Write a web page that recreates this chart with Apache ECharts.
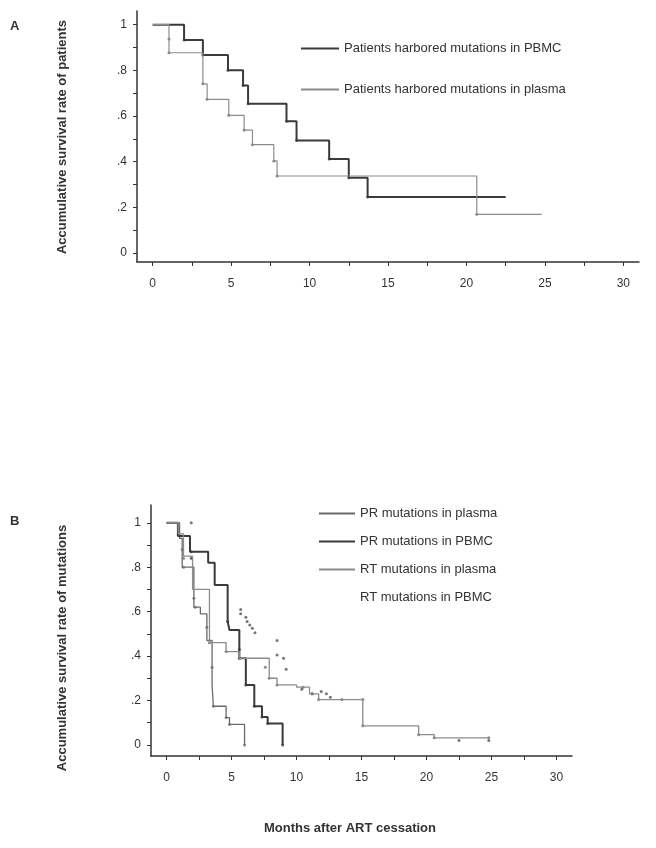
<!DOCTYPE html>
<html><head><meta charset="utf-8">
<script src="https://cdn.jsdelivr.net/npm/echarts@6/dist/echarts.min.js"></script>
<style>html,body{margin:0;padding:0;background:#fff}#c{width:656px;height:848px}</style>
</head><body><div id="c"></div>
<script>
// ---- data ----
const monthTickLabels = [0,5,10,15,20,25,30];
const monthMinorTicks = [0,2.5,5,7.5,10,12.5,15,17.5,20,22.5,25,27.5,30];
const rateTickLabels = [0,0.2,0.4,0.6,0.8,1];
const rateMinorTicks = [0,0.1,0.2,0.3,0.4,0.5,0.6,0.7,0.8,0.9,1];

const patientsPbmc = [[0,1],[2.0,0.933],[3.2,0.867],[4.8,0.8],[5.76,0.733],[6.08,0.654],[8.53,0.577],[9.17,0.493],[11.25,0.411],[12.5,0.329],[13.7,0.245],[22.5,0.245]];
const patientsPbmcMarks = [[2.0,0.933],[3.2,0.867],[4.8,0.8],[5.76,0.733],[6.08,0.654],[8.53,0.577],[9.17,0.493],[11.25,0.411],[12.5,0.329],[13.7,0.245]];
const patientsPlasma = [[0,1],[1.04,0.877],[3.2,0.741],[3.47,0.673],[4.85,0.603],[5.83,0.538],[6.36,0.474],[7.72,0.403],[7.93,0.337],[20.66,0.169],[24.8,0.169]];
const patientsPlasmaMarks = [[1.04,0.937],[1.04,0.877],[3.2,0.741],[3.47,0.673],[4.85,0.603],[5.83,0.538],[6.36,0.474],[7.72,0.403],[7.93,0.337],[20.66,0.169]];

const prPlasma = [[0,1],[1.0,0.93],[1.2,0.80],[2.1,0.62],[2.6,0.59],[3.1,0.47],[3.5,0.27],[3.6,0.174],[4.58,0.123],[4.84,0.092],[6.0,0]];
const prPlasmaMarks = [[1.2,0.88],[1.3,0.84],[1.3,0.80],[2.1,0.66],[2.2,0.62],[3.1,0.53],[3.5,0.35],[3.6,0.174],[4.58,0.123],[4.84,0.092],[6.0,0]];
const prPbmc = [[0,1],[0.87,0.94],[1.8,0.87],[3.2,0.82],[3.7,0.72],[4.7,0.555],[4.84,0.517],[5.6,0.39],[6.1,0.27],[6.75,0.174],[7.34,0.126],[7.78,0.096],[8.93,0]];
const prPbmcMarks = [[1.9,0.87],[1.9,0.84],[4.7,0.555],[5.6,0.43],[5.6,0.39],[6.1,0.27],[6.75,0.174],[7.34,0.126],[7.78,0.096],[8.93,0]];
const rtPlasma = [[0,1],[0.9,0.95],[1.3,0.85],[2.0,0.70],[3.3,0.46],[4.58,0.42],[5.6,0.39],[7.9,0.30],[8.5,0.27],[10,0.26],[11,0.23],[11.7,0.204],[15.1,0.086],[19.4,0.046],[20.6,0.032],[24.8,0.032]];
const rtPlasmaMarks = [[3.3,0.46],[4.58,0.42],[7.6,0.35],[7.9,0.30],[8.5,0.27],[10.5,0.26],[11.2,0.23],[11.7,0.204],[13.5,0.204],[15.1,0.204],[15.1,0.086],[19.4,0.046],[20.6,0.032],[24.8,0.032]];
const rtPbmcMarks = [[1.9,1.0],[5.7,0.61],[5.7,0.59],[6.1,0.575],[6.2,0.555],[6.4,0.54],[6.6,0.525],[6.8,0.505],[8.5,0.47],[8.5,0.405],[9.0,0.39],[9.2,0.34],[10.4,0.25],[11.2,0.23],[11.9,0.24],[12.3,0.23],[12.6,0.215],[22.5,0.02],[24.8,0.02]];

// ---- chart ----
const FONT = '"Liberation Sans", Arial, sans-serif';
const DARK = '#3a3a3a', LIGHT = '#8c8c8c', MID = '#6a6a6a';
function rateFmt(v){ if (Math.abs(v-1)<1e-9) return '1'; if (Math.abs(v)<1e-9) return '0'; return '.' + Math.round(v*10); }
function xAxisCfg(gi, min, max){
  return {type:'value', gridIndex:gi, min:min, max:max,
    axisLine:{show:true, onZero:false, lineStyle:{color:'#333', width:1.5}},
    axisTick:{show:true, customValues:monthMinorTicks, length:4, lineStyle:{color:'#333'}},
    axisLabel:{customValues:monthTickLabels, color:'#333', fontSize:12, fontFamily:FONT, margin:16},
    splitLine:{show:false}};
}
function yAxisCfg(gi, min, max){
  return {type:'value', gridIndex:gi, min:min, max:max,
    axisLine:{show:true, onZero:false, lineStyle:{color:'#333', width:1.5}},
    axisTick:{show:true, customValues:rateMinorTicks, length:4, lineStyle:{color:'#333'}},
    axisLabel:{customValues:rateTickLabels, formatter:rateFmt, color:'#333', fontSize:12, fontFamily:FONT, margin:10},
    splitLine:{show:false}};
}
function stepLine(name, data, gi, color, width){
  return {name:name, type:'line', step:'end', data:data, xAxisIndex:gi, yAxisIndex:gi,
    showSymbol:false, symbol:'none', lineStyle:{color:color, width:width}, itemStyle:{color:color},
    animation:false, silent:true};
}
function marks(name, data, gi, color){
  return {name:name, type:'scatter', data:data, xAxisIndex:gi, yAxisIndex:gi,
    symbol:'circle', symbolSize:3, itemStyle:{color:color}, animation:false, silent:true};
}

const option = {
  backgroundColor:'#fff',
  animation:false,
  grid:[{left:137, top:11, width:502, height:251},{left:151, top:505, width:421, height:251}],
  xAxis:[xAxisCfg(0,-1,31), xAxisCfg(1,-1.2,31.2)],
  yAxis:[yAxisCfg(0,-0.04,1.06), yAxisCfg(1,-0.05,1.08)],
  legend:[
    {left:296, top:37, orient:'vertical', itemGap:28, itemWidth:38, itemHeight:2, icon:'rect',
     textStyle:{fontSize:13, color:'#333', fontFamily:FONT},
     data:['Patients harbored mutations in PBMC','Patients harbored mutations in plasma']},
    {left:314, top:502, orient:'vertical', itemGap:15, itemWidth:36, itemHeight:2, icon:'rect',
     textStyle:{fontSize:13, color:'#333', fontFamily:FONT},
     data:['PR mutations in plasma','PR mutations in PBMC','RT mutations in plasma',{name:'RT mutations in PBMC', itemStyle:{opacity:0}}]}
  ],
  graphic: [
    {type:'text', left:10, top:20, style:{text:'A', font:'bold 13px '+FONT, fill:'#333'}},
    {type:'text', left:10, top:515, style:{text:'B', font:'bold 13px '+FONT, fill:'#333'}},
    {type:'text', x:62, y:137, rotation:Math.PI/2, style:{text:'Accumulative survival rate of patients', font:'bold 13px '+FONT, fill:'#333', align:'center', verticalAlign:'middle'}},
    {type:'text', x:62, y:648, rotation:Math.PI/2, style:{text:'Accumulative survival rate of mutations', font:'bold 13px '+FONT, fill:'#333', align:'center', verticalAlign:'middle'}},
    {type:'text', x:350, y:828, style:{text:'Months after ART cessation', font:'bold 13px '+FONT, fill:'#333', align:'center', verticalAlign:'middle'}}
  ],
  series:[
    stepLine('Patients harbored mutations in PBMC', patientsPbmc, 0, DARK, 2),
    marks('Patients harbored mutations in PBMC', patientsPbmcMarks, 0, DARK),
    stepLine('Patients harbored mutations in plasma', patientsPlasma, 0, LIGHT, 1.2),
    marks('Patients harbored mutations in plasma', patientsPlasmaMarks, 0, MID),
    stepLine('PR mutations in plasma', prPlasma, 1, MID, 1.3),
    marks('PR mutations in plasma', prPlasmaMarks, 1, MID),
    stepLine('PR mutations in PBMC', prPbmc, 1, DARK, 2),
    marks('PR mutations in PBMC', prPbmcMarks, 1, DARK),
    stepLine('RT mutations in plasma', rtPlasma, 1, LIGHT, 1.3),
    marks('RT mutations in plasma', rtPlasmaMarks, 1, MID),
    marks('RT mutations in PBMC', rtPbmcMarks, 1, '#555')
  ]
};
echarts.init(document.getElementById('c'), null, {renderer:'canvas'}).setOption(option);
</script></body></html>
